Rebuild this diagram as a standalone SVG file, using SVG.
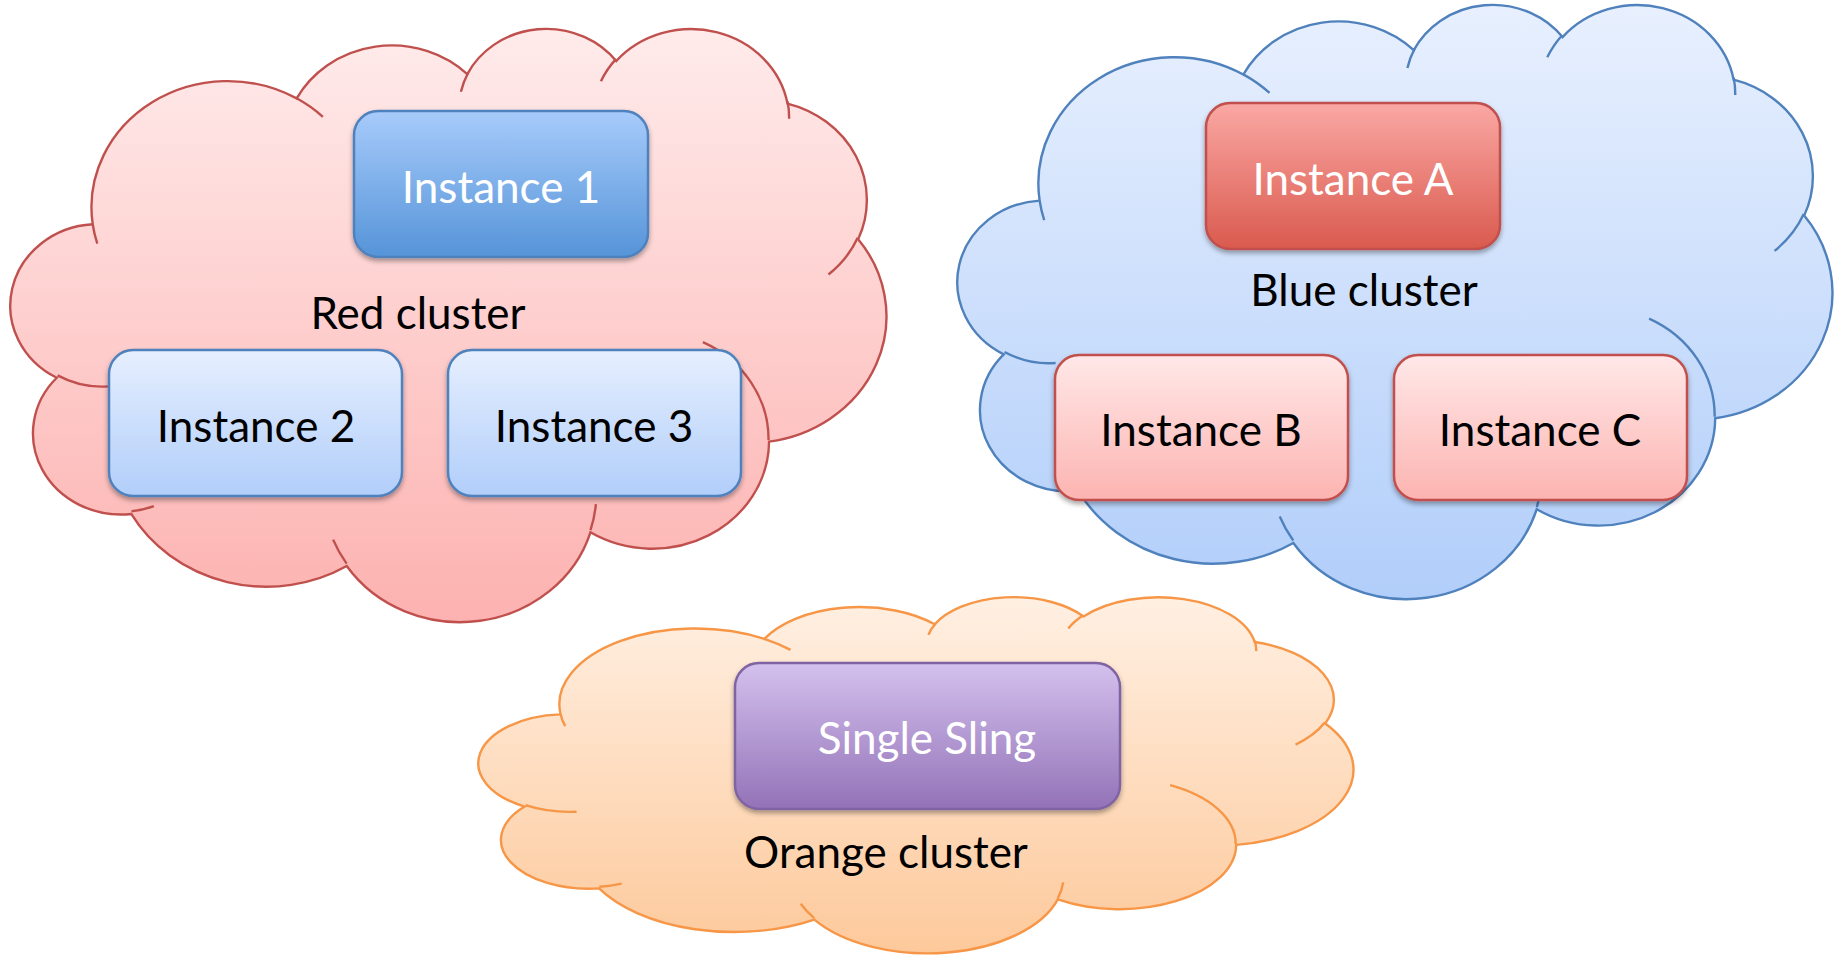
<svg xmlns="http://www.w3.org/2000/svg" xmlns:xlink="http://www.w3.org/1999/xlink" width="1841" height="955" viewBox="0 0 1841 955">
<style>
.lbl{font-family:Lato,"Open Sans","Liberation Sans",sans-serif;font-size:44px;text-anchor:middle}
.dark{fill:#000}
.light{fill:#fff}
.box{stroke-width:2.5}
.cloud{stroke-width:2.4}
</style>
<defs>
<linearGradient id="gRedCloud" x1="0" y1="0" x2="0" y2="1"><stop offset="0" stop-color="#FFEBEB"/><stop offset="1" stop-color="#FCB2B0"/></linearGradient>
<linearGradient id="gBlueCloud" x1="0" y1="0" x2="0" y2="1"><stop offset="0" stop-color="#E8F0FE"/><stop offset="1" stop-color="#B1CEFA"/></linearGradient>
<linearGradient id="gOrangeCloud" x1="0" y1="0" x2="0" y2="1"><stop offset="0" stop-color="#FFF0E3"/><stop offset="1" stop-color="#FDC99B"/></linearGradient>
<linearGradient id="gBlueDark" x1="0" y1="0" x2="0" y2="1"><stop offset="0" stop-color="#A7CBFB"/><stop offset="1" stop-color="#5594D8"/></linearGradient>
<linearGradient id="gBlueLight" x1="0" y1="0" x2="0" y2="1"><stop offset="0" stop-color="#E6EFFE"/><stop offset="1" stop-color="#B1CEFA"/></linearGradient>
<linearGradient id="gRedDark" x1="0" y1="0" x2="0" y2="1"><stop offset="0" stop-color="#FAA8A4"/><stop offset="1" stop-color="#DA5A4E"/></linearGradient>
<linearGradient id="gRedLight" x1="0" y1="0" x2="0" y2="1"><stop offset="0" stop-color="#FFE8E8"/><stop offset="1" stop-color="#FCB4B1"/></linearGradient>
<linearGradient id="gPurple" x1="0" y1="0" x2="0" y2="1"><stop offset="0" stop-color="#D4C1EE"/><stop offset="1" stop-color="#9372B7"/></linearGradient>
<filter id="shadow" x="-10%" y="-10%" width="120%" height="130%"><feDropShadow dx="0" dy="3" stdDeviation="2.5" flood-color="#000" flood-opacity="0.35"/></filter>
<path id="cloud" vector-effect="non-scaling-stroke" d="M3900,14370 A6753,9190 0 0 1 14004,5202 A5333,7267 0 0 1 22457,3432 A4365,5945 0 0 1 29835,2481 A4857,6595 0 0 1 38321,5576 A5333,7273 0 0 1 41821,15460 A6775,9220 0 0 1 37407,30203 A5785,7867 0 0 1 28558,36813 A6752,9215 0 0 1 16484,39268 A7720,10543 0 0 1 5809,35475 A4360,5918 0 0 1 2118,25552 A4345,5945 0 0 1 3900,14370 Z"/>
<path id="hooks" fill="none" vector-effect="non-scaling-stroke" d="M4693,26177 A4345,5945 0 0 1 2160,25380 M6928,34899 A4360,5918 0 0 1 5820,35281 M16478,39090 A6752,9215 0 0 1 15809,37346 M28827,34751 A6752,9215 0 0 1 28560,36660 M34129,22954 A5785,7867 0 0 1 37381,30090 M41798,15354 A5333,7273 0 0 1 40350,18029 M38324,5426 A4857,6595 0 0 1 38400,6690 M29078,3952 A4857,6595 0 0 1 29819,2342 M22141,4720 A4365,5945 0 0 1 22500,3330 M14000,5192 A6753,9190 0 0 1 15303,6544 M4127,15789 A6753,9190 0 0 1 3900,14371"/>
</defs>
<rect width="1841" height="955" fill="#fff"/>

<g id="red-cluster">
<g transform="translate(14,27) scale(0.020185,0.013727)">
<use xlink:href="#cloud" href="#cloud" class="cloud" fill="url(#gRedCloud)" stroke="#C0504D"/>
<use xlink:href="#hooks" href="#hooks" class="cloud" stroke="#C0504D"/>
</g>
<text class="lbl dark" x="418" y="329">Red cluster</text>
</g>

<g id="blue-cluster">
<g transform="translate(961,3) scale(0.020162,0.013750)">
<use xlink:href="#cloud" href="#cloud" class="cloud" fill="url(#gBlueCloud)" stroke="#4F81BD"/>
<use xlink:href="#hooks" href="#hooks" class="cloud" stroke="#4F81BD"/>
</g>
<text class="lbl dark" x="1364" y="306">Blue cluster</text>
</g>

<g id="orange-cluster">
<g transform="translate(482,596) scale(0.020162,0.008241)">
<use xlink:href="#cloud" href="#cloud" class="cloud" fill="url(#gOrangeCloud)" stroke="#F79646"/>
<use xlink:href="#hooks" href="#hooks" class="cloud" stroke="#F79646"/>
</g>
<text class="lbl dark" x="886" y="868">Orange cluster</text>
</g>

<g id="instance-1">
<rect class="box" x="354" y="111" width="294" height="146" rx="24" fill="url(#gBlueDark)" stroke="#4F81BD" filter="url(#shadow)"/>
<text class="lbl light" x="501" y="203">Instance 1</text>
</g>
<g id="instance-2">
<rect class="box" x="109" y="350" width="293" height="146" rx="24" fill="url(#gBlueLight)" stroke="#4F81BD" filter="url(#shadow)"/>
<text class="lbl dark" x="256" y="442">Instance 2</text>
</g>
<g id="instance-3">
<rect class="box" x="448" y="350" width="293" height="146" rx="24" fill="url(#gBlueLight)" stroke="#4F81BD" filter="url(#shadow)"/>
<text class="lbl dark" x="594" y="442">Instance 3</text>
</g>
<g id="instance-a">
<rect class="box" x="1206" y="103" width="294" height="146" rx="24" fill="url(#gRedDark)" stroke="#C0504D" filter="url(#shadow)"/>
<text class="lbl light" x="1353" y="195">Instance A</text>
</g>
<g id="instance-b">
<rect class="box" x="1055" y="355" width="293" height="145" rx="24" fill="url(#gRedLight)" stroke="#C0504D" filter="url(#shadow)"/>
<text class="lbl dark" x="1201" y="446">Instance B</text>
</g>
<g id="instance-c">
<rect class="box" x="1394" y="355" width="293" height="145" rx="24" fill="url(#gRedLight)" stroke="#C0504D" filter="url(#shadow)"/>
<text class="lbl dark" x="1540" y="446">Instance C</text>
</g>
<g id="single-sling">
<rect class="box" x="735" y="663" width="385" height="146" rx="24" fill="url(#gPurple)" stroke="#8064A2" filter="url(#shadow)"/>
<text class="lbl light" x="927" y="754">Single Sling</text>
</g>
</svg>
